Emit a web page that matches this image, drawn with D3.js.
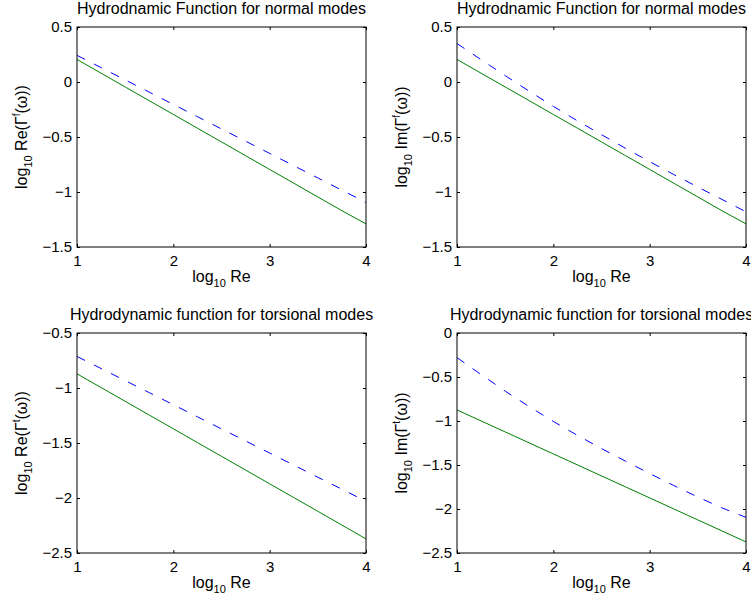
<!DOCTYPE html>
<html>
<head>
<meta charset="utf-8">
<script src="https://cdn.jsdelivr.net/npm/d3@7"></script>
<style>
body { margin: 0; background: #fff; }
svg text { font-family: "Liberation Sans", Arial, Helvetica, sans-serif; fill: #000; }
</style>
</head>
<body>
<div id="chart"></div>
<script>
var width = 751, height = 601;

// x values (log10 Re)
var logRe = [1, 1.25, 1.5, 1.75, 2, 2.25, 2.5, 2.75, 3, 3.25, 3.5, 3.75, 4];
var xTicks = [1, 2, 3, 4];

// normal modes
var reNormalSolid  = [0.205, 0.08, -0.045, -0.17, -0.295, -0.42, -0.545, -0.67, -0.795, -0.92, -1.045, -1.17, -1.29];
var reNormalDashed = [0.242, 0.131, 0.019, -0.092, -0.204, -0.315, -0.427, -0.538, -0.649, -0.761, -0.872, -0.984, -1.095];
var imNormalSolid  = [0.205, 0.08, -0.045, -0.17, -0.295, -0.42, -0.545, -0.67, -0.795, -0.92, -1.045, -1.17, -1.29];
var imNormalDashed = [0.35, 0.203, 0.058, -0.084, -0.221, -0.353, -0.479, -0.603, -0.724, -0.841, -0.955, -1.067, -1.18];
var normalTicks = [-1.5, -1, -0.5, 0, 0.5];

// torsional modes
var reTorsSolid  = [-0.871, -0.996, -1.121, -1.246, -1.371, -1.496, -1.621, -1.746, -1.871, -1.996, -2.121, -2.246, -2.372];
var reTorsDashed = [-0.713, -0.823, -0.933, -1.042, -1.152, -1.262, -1.372, -1.481, -1.591, -1.701, -1.811, -1.92, -2.03];
var imTorsSolid  = [-0.874, -0.999, -1.124, -1.249, -1.374, -1.499, -1.624, -1.749, -1.874, -1.999, -2.124, -2.249, -2.374];
var imTorsDashed = [-0.28, -0.472, -0.66, -0.837, -1.005, -1.163, -1.313, -1.457, -1.597, -1.733, -1.864, -1.987, -2.095];
var reTorsTicks = [-2.5, -2, -1.5, -1, -0.5];
var imTorsTicks = [-2.5, -2, -1.5, -1, -0.5, 0];

var panels = [
    { title: "Hydrodnamic Function for normal modes", part: "Re", sup: "f", solid: reNormalSolid, dashed: reNormalDashed, ticks: normalTicks },
    { title: "Hydrodnamic Function for normal modes", part: "Im", sup: "f", solid: imNormalSolid, dashed: imNormalDashed, ticks: normalTicks },
    { title: "Hydrodynamic function for torsional modes", part: "Re", sup: "t", solid: reTorsSolid, dashed: reTorsDashed, ticks: reTorsTicks },
    { title: "Hydrodynamic function for torsional modes", part: "Im", sup: "t", solid: imTorsSolid, dashed: imTorsDashed, ticks: imTorsTicks }
];

// layout
var colX = [77, 457], rowY = [27, 333];
var pw = 289, ph = 220;

var svg = d3.select("#chart").append("svg")
    .attr("width", width)
    .attr("height", height);

svg.append("rect").attr("width", width).attr("height", height).attr("fill", "#fff");

var fmt = d3.format("~g");

panels.forEach(function (p, i) {
    var g = svg.append("g")
        .attr("transform", "translate(" + colX[i % 2] + "," + rowY[Math.floor(i / 2)] + ")");

    var x = d3.scaleLinear().domain([1, 4]).range([0, pw]);
    var y = d3.scaleLinear().domain(d3.extent(p.ticks)).range([ph, 0]);

    var line = d3.line()
        .x(function (d, j) { return x(logRe[j]); })
        .y(function (d) { return y(d); });

    g.append("path")
        .attr("d", line(p.solid))
        .attr("fill", "none")
        .attr("stroke", "#008000")
        .attr("stroke-width", 1);

    g.append("path")
        .attr("d", line(p.dashed))
        .attr("fill", "none")
        .attr("stroke", "#0000ff")
        .attr("stroke-width", 1)
        .attr("stroke-dasharray", "9,10");

    // axes, ticks pointing inward like matlab
    var ax = [
        g.append("g").attr("transform", "translate(0," + ph + ")")
            .call(d3.axisBottom(x).tickValues(xTicks).tickSize(-3).tickPadding(8).tickFormat(fmt)),
        g.append("g")
            .call(d3.axisTop(x).tickValues(xTicks).tickSize(-3).tickFormat("")),
        g.append("g")
            .call(d3.axisLeft(y).tickValues(p.ticks).tickSize(-3).tickPadding(5).tickFormat(fmt)),
        g.append("g").attr("transform", "translate(" + pw + ",0)")
            .call(d3.axisRight(y).tickValues(p.ticks).tickSize(-3).tickFormat(""))
    ];
    ax.forEach(function (a) {
        a.select(".domain").remove();
        a.selectAll(".tick line").attr("stroke", "#000");
        a.selectAll("text").attr("font-size", 15).attr("font-family", null);
    });

    g.append("rect")
        .attr("width", pw).attr("height", ph)
        .attr("fill", "none").attr("stroke", "#000").attr("stroke-width", 1);

    g.append("text")
        .attr("x", pw / 2).attr("y", -13)
        .attr("text-anchor", "middle")
        .attr("font-size", 16)
        .text(p.title);

    var xl = g.append("text")
        .attr("x", pw / 2).attr("y", ph + 35)
        .attr("text-anchor", "middle")
        .attr("font-size", 16);
    xl.append("tspan").text("log");
    xl.append("tspan").attr("font-size", 11).attr("dy", 5).text("10");
    xl.append("tspan").attr("dy", -5).text(" Re");

    var yl = g.append("text")
        .attr("transform", "translate(-50," + (ph / 2) + ") rotate(-90)")
        .attr("text-anchor", "middle")
        .attr("font-size", 16);
    yl.append("tspan").text("log");
    yl.append("tspan").attr("font-size", 11).attr("dy", 5).text("10");
    yl.append("tspan").attr("dy", -5).text(" " + p.part + "(\u0393");
    yl.append("tspan").attr("font-size", 10).attr("dy", -7).text(p.sup);
    yl.append("tspan").attr("dy", 7).text("(\u03c9))");
});
</script>
</body>
</html>
